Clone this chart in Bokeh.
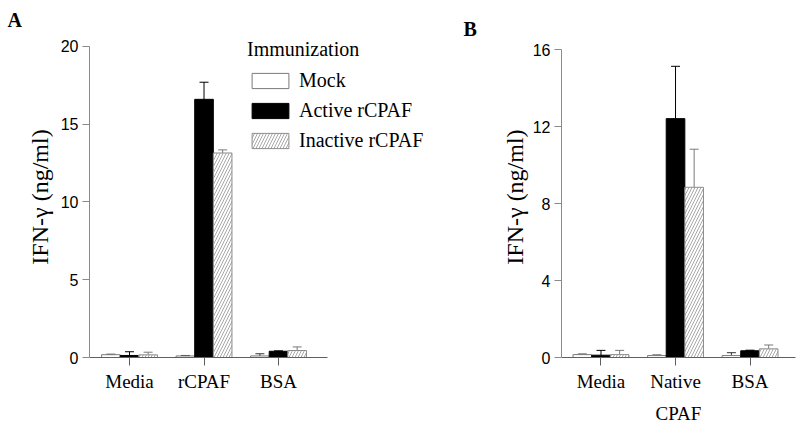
import numpy as np
from bokeh.plotting import figure
from bokeh.models import Range1d, FixedTicker, Whisker, TeeHead, ColumnDataSource, Title
from bokeh.layouts import row
from bokeh.embed import file_html
from bokeh.resources import INLINE

# ---------------- data ----------------
cats_a = ["Media", "rCPAF", "BSA"]
cats_b = ["Media", "Native", "BSA"]
cats_b_sub = "CPAF"          # second line of the "Native CPAF" category
series = ["Mock", "Active rCPAF", "Inactive rCPAF"]

a_mock = [0.18, 0.10, 0.10]
a_mock_err = [0.03, 0.03, 0.14]
a_active = [0.13, 16.6, 0.40]
a_active_err = [0.24, 1.10, 0.03]
a_inactive = [0.17, 13.15, 0.45]
a_inactive_err = [0.17, 0.20, 0.23]

b_mock = [0.15, 0.10, 0.10]
b_mock_err = [0.03, 0.03, 0.15]
b_active = [0.12, 12.42, 0.35]
b_active_err = [0.25, 2.72, 0.03]
b_inactive = [0.15, 8.85, 0.45]
b_inactive_err = [0.22, 1.98, 0.20]

a_yticks = [0, 5, 10, 15, 20]
b_yticks = [0, 4, 8, 12, 16]

# ---------------- styles ----------------
SERIF = "Liberation Serif"
SANS = "Liberation Sans"
AXIS_COL = "#606060"
bar_styles = [
    dict(fill_color="white", line_color="#7a7a7a"),
    dict(fill_color="black", line_color="black"),
    dict(fill_color="white", line_color="#8c8c8c", hatch_pattern="/",
         hatch_color="#a8a8a8", hatch_scale=6, hatch_weight=1),
]
err_colors = ["#333333", "black", "#7a7a7a"]
offsets = [-0.25, 0.0, 0.25]


def make_title(letter, offset, standoff):
    kw = dict(text=letter, align="left", offset=offset, text_font=SERIF,
              text_font_size="20px", text_font_style="bold", text_color="black")
    try:
        return Title(standoff=standoff, **kw)
    except Exception:
        return Title(standoff=0, **kw)


def make_panel(cats, vals, errs, ymax, yend, yticks, width, height, bl, br, bt, bb,
               xr, xbounds, letter, letter_offset, letter_standoff, ylab_standoff,
               xlabel=None, legend=False):
    p = figure(width=width, height=height, output_backend="svg", toolbar_location=None,
               x_range=Range1d(*xr), y_range=Range1d(0, yend),
               min_border_left=bl, min_border_right=br, min_border_top=bt, min_border_bottom=bb)
    idx = np.arange(len(cats))
    for k, (name, v, e) in enumerate(zip(series, vals, errs)):
        v = np.array(v, dtype=float)
        e = np.array(e, dtype=float)
        src = ColumnDataSource(dict(x=idx + offsets[k], top=v, upper=v + e,
                                    lower=np.maximum(v - e, 0)))
        kw = dict(legend_label=name) if legend else {}
        p.vbar(x="x", top="top", bottom=0, width=0.25, source=src, line_width=1,
               **bar_styles[k], **kw)
        ec = err_colors[k]
        w = Whisker(base="x", upper="upper", lower="lower", source=src,
                    line_color=ec, line_width=1,
                    upper_head=TeeHead(size=9, line_color=ec, line_width=1),
                    lower_head=TeeHead(size=9, line_color=ec, line_width=1))
        p.add_layout(w)

    p.xgrid.visible = False
    p.ygrid.visible = False
    p.outline_line_color = None
    p.background_fill_color = "white"

    xa = p.xaxis[0]
    xa.bounds = xbounds
    xa.ticker = FixedTicker(ticks=[int(i) for i in idx])
    xa.major_label_overrides = {int(i): c for i, c in enumerate(cats)}
    xa.major_tick_out = 8
    xa.major_tick_in = 0
    xa.minor_tick_out = 0
    xa.minor_tick_in = 0
    xa.axis_line_color = AXIS_COL
    xa.major_tick_line_color = AXIS_COL
    xa.major_label_text_font = SERIF
    xa.major_label_text_font_size = "19px"
    xa.major_label_text_color = "black"
    xa.major_label_standoff = 5
    if xlabel:
        xa.axis_label = xlabel
        xa.axis_label_text_font = SERIF
        xa.axis_label_text_font_size = "19px"
        xa.axis_label_text_font_style = "normal"
        xa.axis_label_text_color = "black"
        xa.axis_label_standoff = 8

    ya = p.yaxis[0]
    ya.bounds = (0, ymax)
    ya.ticker = FixedTicker(ticks=yticks)
    ya.major_tick_out = 7
    ya.major_tick_in = 0
    ya.minor_tick_out = 0
    ya.minor_tick_in = 0
    ya.axis_line_color = "#8a8a8a"
    ya.major_tick_line_color = "#8a8a8a"
    ya.major_label_text_font = SANS
    ya.major_label_text_font_size = "16px"
    ya.major_label_text_color = "black"
    ya.major_label_standoff = 4
    ya.axis_label = "IFN-γ (ng/ml)"
    ya.axis_label_text_font = SERIF
    ya.axis_label_text_font_size = "24px"
    ya.axis_label_text_font_style = "normal"
    ya.axis_label_text_color = "black"
    ya.axis_label_standoff = ylab_standoff

    p.title = make_title(letter, letter_offset, letter_standoff)

    if legend:
        lg = p.legend[0]
        lg.location = (158, 205)
        lg.title = "Immunization"
        lg.title_text_font = SERIF
        lg.title_text_font_size = "20px"
        lg.title_text_font_style = "normal"
        lg.title_text_color = "black"
        lg.title_standoff = 8
        lg.label_text_font = SERIF
        lg.label_text_font_size = "20px"
        lg.label_text_color = "black"
        lg.glyph_width = 46
        lg.glyph_height = 19
        lg.label_standoff = 6
        lg.spacing = 7
        lg.padding = 0
        lg.margin = 0
        lg.border_line_color = None
        lg.background_fill_alpha = 0
    return p


pa = make_panel(cats_a, [a_mock, a_active, a_inactive],
                [a_mock_err, a_active_err, a_inactive_err],
                20, 20.64, a_yticks, 450, 426, 89, 10, 36, 68,
                (-0.537, 4.174), (-0.537, 2.658), "A", -82, 11, 5, legend=True)
pb = make_panel(cats_b, [b_mock, b_active, b_inactive],
                [b_mock_err, b_active_err, b_inactive_err],
                16, 16.69, b_yticks, 350, 426, 111, 5, 36, 68,
                (-0.53, 2.61), (-0.53, 2.61), "B", -98, -6, 2, xlabel=cats_b_sub)

layout = row(pa, pb)
open("out.html", "w").write(file_html(layout, INLINE))
